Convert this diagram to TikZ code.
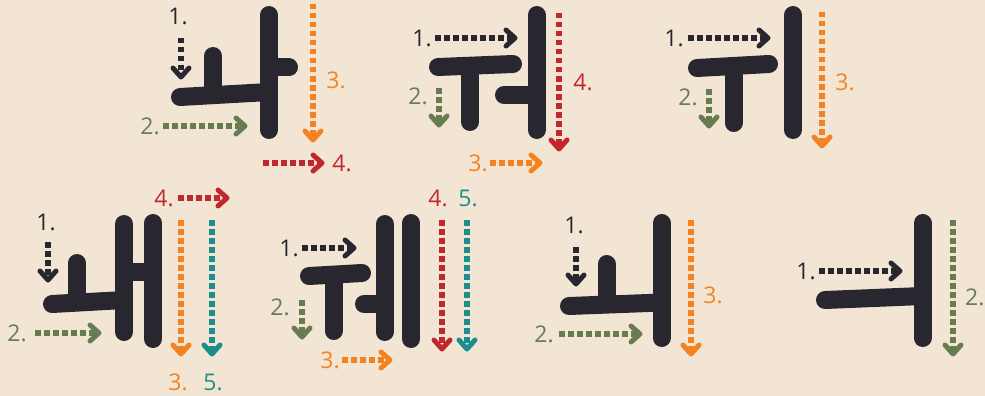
\documentclass[tikz,border=0pt]{standalone}
\usepackage{fontspec}
\setmainfont{Open Sans}
\usetikzlibrary{calc}
\definecolor{bg}{HTML}{F3E5D3}
\definecolor{ink}{HTML}{28272F}
\definecolor{cor}{HTML}{F58220}
\definecolor{cre}{HTML}{C1272D}
\definecolor{cgr}{HTML}{677D51}
\definecolor{cte}{HTML}{1C8E8E}
\tikzset{
  glyph/.style={draw=ink, line width=18pt, line cap=round},
  dotline/.style={line width=5.5pt, dash pattern=on 5.5pt off 3.5pt, shorten >=3pt},
  chevD/.pic={\draw[line width=5pt,line cap=round,line join=round] (-8,-9)--(0,0)--(8,-9);},
  chevR/.pic={\draw[line width=5pt,line cap=round,line join=round] (-9,-8)--(0,0)--(-9,8);},
  lab/.style={inner sep=0pt, font=\fontsize{23}{23}\selectfont}
}
\newcommand\arrD[5]{% name, x, y1, y2, colour
  \coordinate (#1s) at (#2,#3); \coordinate (#1e) at (#2,#4);
  \draw[dotline,#5] (#1s) -- (#1e);
  \pic[#5] at (#1e) {chevD};}
\newcommand\arrR[5]{% name, y, x1, x2, colour
  \coordinate (#1s) at (#3,#2); \coordinate (#1e) at (#4,#2);
  \draw[dotline,#5] (#1s) -- (#1e);
  \pic[#5] at (#1e) {chevR};}
\begin{document}
\begin{tikzpicture}[x=1pt,y=-1pt]
\fill[bg] (0,0) rectangle (985,396);
\useasboundingbox (0,0) rectangle (985,396);
% ---- glyph 1
\draw[glyph] (269,15) -- (269,130);
\draw[glyph] (269,67.5) -- (289,67.5);
\draw[glyph] (180,97) -- (269,92);
\draw[glyph] (213,56) -- (213,95);
\arrD{ga1}{181}{38}{77}{ink}
\arrR{ga2}{126}{163}{245}{cgr}
\arrD{ga3}{313}{4}{140}{cor}
\arrR{ga4}{163}{263}{322}{cre}
\node[lab,ink] (la1) at (178,16) {1.};
\node[lab,cgr] (la2) at (150,126) {2.};
\node[lab,cor] (la3) at (336,80) {3.};
\node[lab,cre] (la4) at (342,163) {4.};
% ---- glyph 2
\draw[glyph] (536.5,15) -- (536.5,130);
\draw[glyph] (438,67) -- (513,64);
\draw[glyph] (470,66) -- (470,122);
\draw[glyph] (504,95) -- (536.5,95);
\arrR{gb1}{38}{435}{515}{ink}
\arrD{gb2}{439}{88}{125}{cgr}
\arrR{gb3}{163}{490}{540}{cor}
\arrD{gb4}{559}{13}{149}{cre}
\node[lab,ink] (lb1) at (422,38) {1.};
\node[lab,cgr] (lb2) at (418,96) {2.};
\node[lab,cor] (lb3) at (478,163) {3.};
\node[lab,cre] (lb4) at (583,82) {4.};
% ---- glyph 3
\draw[glyph] (793,15) -- (793,130);
\draw[glyph] (697,68) -- (769,64);
\draw[glyph] (733.5,66) -- (733.5,123);
\arrR{gc1}{38}{688}{768}{ink}
\arrD{gc2}{709}{89}{126}{cgr}
\arrD{gc3}{822}{12}{146}{cor}
\node[lab,ink] (lc1) at (674,38) {1.};
\node[lab,cgr] (lc2) at (688,97) {2.};
\node[lab,cor] (lc3) at (845,82) {3.};
% ---- glyph 4
\draw[glyph] (124,224) -- (124,332);
\draw[glyph] (153,223) -- (153,339);
\draw[glyph] (124,272) -- (153,272);
\draw[glyph] (52,304) -- (124,300);
\draw[glyph] (77,263) -- (77,302);
\arrD{gd1}{48}{242}{280}{ink}
\arrR{gd2}{333}{35}{99}{cgr}
\arrD{gd3}{181}{220}{354}{cor}
\arrR{gd4}{198}{178}{227}{cre}
\arrD{gd5}{212}{220}{354}{cte}
\node[lab,ink] (ld1) at (46,222) {1.};
\node[lab,cgr] (ld2) at (17,333) {2.};
\node[lab,cor] (ld3) at (178,382) {3.};
\node[lab,cre] (ld4) at (164,198) {4.};
\node[lab,cte] (ld5) at (213,382) {5.};
% ---- glyph 5
\draw[glyph] (384.5,224) -- (384.5,332);
\draw[glyph] (411,223) -- (411,339);
\draw[glyph] (309,276) -- (362,273);
\draw[glyph] (333.5,275) -- (333.5,331);
\draw[glyph] (364,304) -- (384.5,304);
\arrR{ge1}{248}{302}{354}{ink}
\arrD{ge2}{302}{300}{337}{cgr}
\arrR{ge3}{360}{342}{390}{cor}
\arrD{ge4}{442}{220}{349}{cre}
\arrD{ge5}{467}{220}{349}{cte}
\node[lab,ink] (le1) at (289,248) {1.};
\node[lab,cgr] (le2) at (280,307) {2.};
\node[lab,cor] (le3) at (330,360) {3.};
\node[lab,cre] (le4) at (438,198) {4.};
\node[lab,cte] (le5) at (468,198) {5.};
% ---- glyph 6
\draw[glyph] (661.5,223) -- (661.5,338);
\draw[glyph] (569,306) -- (661.5,302.5);
\draw[glyph] (606.5,264) -- (606.5,304);
\arrD{gf1}{576}{247}{284}{ink}
\arrR{gf2}{334}{559}{640}{cgr}
\arrD{gf3}{691}{220}{354}{cor}
\node[lab,ink] (lf1) at (574,225) {1.};
\node[lab,cgr] (lf2) at (544,334) {2.};
\node[lab,cor] (lf3) at (713,295) {3.};
% ---- glyph 7
\draw[glyph] (922.5,223) -- (922.5,338);
\draw[glyph] (825,300) -- (922.5,296);
\arrR{gg1}{271}{819}{900}{ink}
\arrD{gg2}{953}{220}{354}{cgr}
\node[lab,ink] (lg1) at (806,271) {1.};
\node[lab,cgr,anchor=west] (lg2) at (965,297) {2.};
\end{tikzpicture}
\end{document}
